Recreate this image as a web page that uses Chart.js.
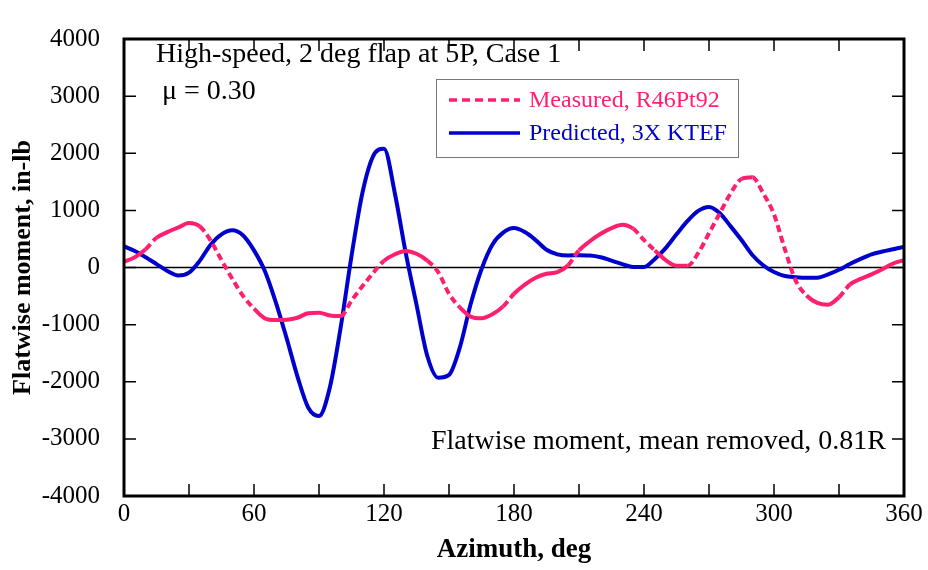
<!DOCTYPE html>
<html>
<head>
<meta charset="utf-8">
<script src="https://cdn.jsdelivr.net/npm/chart.js@4.4.0/dist/chart.umd.min.js"></script>
<style>
  html, body { margin: 0; padding: 0; background: #fff; }
</style>
</head>
<body>
<canvas id="chart" width="928" height="570"></canvas>
<script>
// azimuth, deg
const azimuth = [
  0, 5, 10, 15, 20, 25, 30, 35, 40, 45, 50, 55, 60, 65, 70, 75, 80, 85, 90, 95,
  100, 105, 110, 115, 120, 125, 130, 135, 140, 145, 150, 155, 160, 165, 170, 175,
  180, 185, 190, 195, 200, 205, 210, 215, 220, 225, 230, 235, 240, 245, 250, 255,
  260, 265, 270, 275, 280, 285, 290, 295, 300, 305, 310, 315, 320, 325, 330, 335,
  340, 345, 350, 355, 360
];

// Measured, R46Pt92 (in-lb)
const measured = [
  100, 180, 320, 520, 620, 700, 780, 720, 470, 130, -200, -500, -720, -890, -920, -915, -880, -800, -790, -840,
  -850, -580, -330, -95, 120, 230, 290, 240, 120, -80, -460, -700, -860, -890, -820, -680,
  -460, -300, -180, -110, -80, 40, 300, 460, 590, 690, 750, 680, 480, 300, 130, 30,
  30, 250, 600, 950, 1300, 1550, 1580, 1300, 930, 320, -230, -490, -620, -650, -520, -300,
  -200, -120, -30, 70, 130
];

// Predicted, 3X KTEF (in-lb)
const predicted = [
  370, 290, 180, 60, -60, -140, -90, 120, 400, 580, 650, 560, 300, -60, -600, -1230, -1900, -2450, -2600, -2100,
  -1050, 200, 1300, 1950, 2080, 1300, 260, -650, -1550, -1930, -1880, -1400, -640, -30, 400, 610,
  690, 620, 480, 310, 230, 210, 215, 210, 180, 120, 60, 10, 10, 150, 340, 580,
  810, 990, 1060, 950, 720, 480, 220, 40, -80, -150, -170, -180, -180, -120, -40, 60,
  150, 230, 280, 320, 360
];

const xTickStep = 60;
const xMinorStep = 30;
const yTickStep = 1000;

const PINK = '#ff1f70';
const BLUE = '#0000cc';
const SERIF = '"Liberation Serif", "Times New Roman", serif';

const toXY = (ys) => azimuth.map((a, i) => ({ x: a, y: ys[i] }));

// draws frame, inward ticks, zero line, legend and notes
const decor = {
  id: 'decor',
  beforeDatasetsDraw(chart) {
    const { ctx, chartArea: a, scales: { y } } = chart;
    ctx.save();
    ctx.strokeStyle = '#000';
    ctx.lineWidth = 1.5;
    const y0 = y.getPixelForValue(0);
    ctx.beginPath();
    ctx.moveTo(a.left, y0);
    ctx.lineTo(a.right, y0);
    ctx.stroke();
    ctx.restore();
  },
  afterDatasetsDraw(chart) {
    const { ctx, chartArea: a, scales: { x, y } } = chart;
    ctx.save();
    ctx.strokeStyle = '#000';
    ctx.lineWidth = 3;
    ctx.strokeRect(a.left, a.top, a.right - a.left, a.bottom - a.top);

    ctx.lineWidth = 1.5;
    ctx.beginPath();
    for (let v = x.min + xMinorStep; v < x.max; v += xMinorStep) {
      const px = x.getPixelForValue(v);
      ctx.moveTo(px, a.top); ctx.lineTo(px, a.top + 12);
      ctx.moveTo(px, a.bottom); ctx.lineTo(px, a.bottom - 12);
    }
    for (let v = y.min + yTickStep; v < y.max; v += yTickStep) {
      const py = y.getPixelForValue(v);
      ctx.moveTo(a.left, py); ctx.lineTo(a.left + 12, py);
      ctx.moveTo(a.right, py); ctx.lineTo(a.right - 12, py);
    }
    ctx.stroke();

    // notes
    ctx.fillStyle = '#000';
    ctx.textBaseline = 'middle';
    ctx.textAlign = 'left';
    ctx.font = '28px ' + SERIF;
    ctx.fillText('High-speed, 2 deg flap at 5P, Case 1', 156, 55);
    ctx.fillText('\u03bc = 0.30', 162, 92);
    ctx.fillText('Flatwise moment, mean removed, 0.81R', 431, 442);

    // legend
    ctx.lineWidth = 1;
    ctx.strokeStyle = '#777';
    ctx.strokeRect(436.5, 79.5, 302, 78);
    ctx.font = '24px ' + SERIF;
    ctx.lineWidth = 3.5;
    ctx.strokeStyle = PINK;
    ctx.setLineDash([8, 5]);
    ctx.beginPath(); ctx.moveTo(449, 100); ctx.lineTo(520, 100); ctx.stroke();
    ctx.setLineDash([]);
    ctx.fillStyle = PINK;
    ctx.fillText('Measured, R46Pt92', 529, 101);
    ctx.strokeStyle = BLUE;
    ctx.beginPath(); ctx.moveTo(449, 133); ctx.lineTo(520, 133); ctx.stroke();
    ctx.fillStyle = BLUE;
    ctx.fillText('Predicted, 3X KTEF', 529, 134);

    // axis titles
    ctx.fillStyle = '#000';
    ctx.textAlign = 'center';
    ctx.font = 'bold 27px ' + SERIF;
    ctx.fillText('Azimuth, deg', (a.left + a.right) / 2, 550);
    ctx.font = 'bold 26px ' + SERIF;
    ctx.translate(23, (a.top + a.bottom) / 2);
    ctx.rotate(-Math.PI / 2);
    ctx.fillText('Flatwise moment, in-lb', 0, 0);
    ctx.restore();
  }
};

new Chart(document.getElementById('chart'), {
  type: 'line',
  data: {
    datasets: [
      {
        label: 'Measured, R46Pt92',
        data: toXY(measured),
        borderColor: PINK,
        borderWidth: 4,
        pointRadius: 0,
        cubicInterpolationMode: 'monotone',
        // dashes show only on the steep stretches, like the original plot
        segment: {
          borderDash: c => Math.abs(c.p1.y - c.p0.y) / Math.max(1, c.p1.x - c.p0.x) > 0.9 ? [7, 4] : undefined
        }
      },
      {
        label: 'Predicted, 3X KTEF',
        data: toXY(predicted),
        borderColor: BLUE,
        borderWidth: 4,
        pointRadius: 0,
        cubicInterpolationMode: 'monotone'
      }
    ]
  },
  options: {
    responsive: false,
    animation: false,
    devicePixelRatio: 1,
    layout: { padding: { top: 24, right: 24, left: 0, bottom: 0 } },
    plugins: { legend: { display: false }, tooltip: { enabled: false } },
    scales: {
      x: {
        type: 'linear', min: 0, max: 360,
        ticks: { stepSize: xTickStep, color: '#000', padding: 3, maxRotation: 0, font: { family: SERIF, size: 25 } },
        grid: { display: false, drawTicks: false },
        border: { display: false },
        afterFit: s => { s.height = 74; }
      },
      y: {
        min: -4000, max: 4000,
        ticks: { stepSize: yTickStep, color: '#000', padding: 24, font: { family: SERIF, size: 25 }, callback: v => String(v) },
        grid: { display: false, drawTicks: false },
        border: { display: false },
        afterFit: s => { s.width = 124; }
      }
    }
  },
  plugins: [decor]
});
</script>
</body>
</html>
